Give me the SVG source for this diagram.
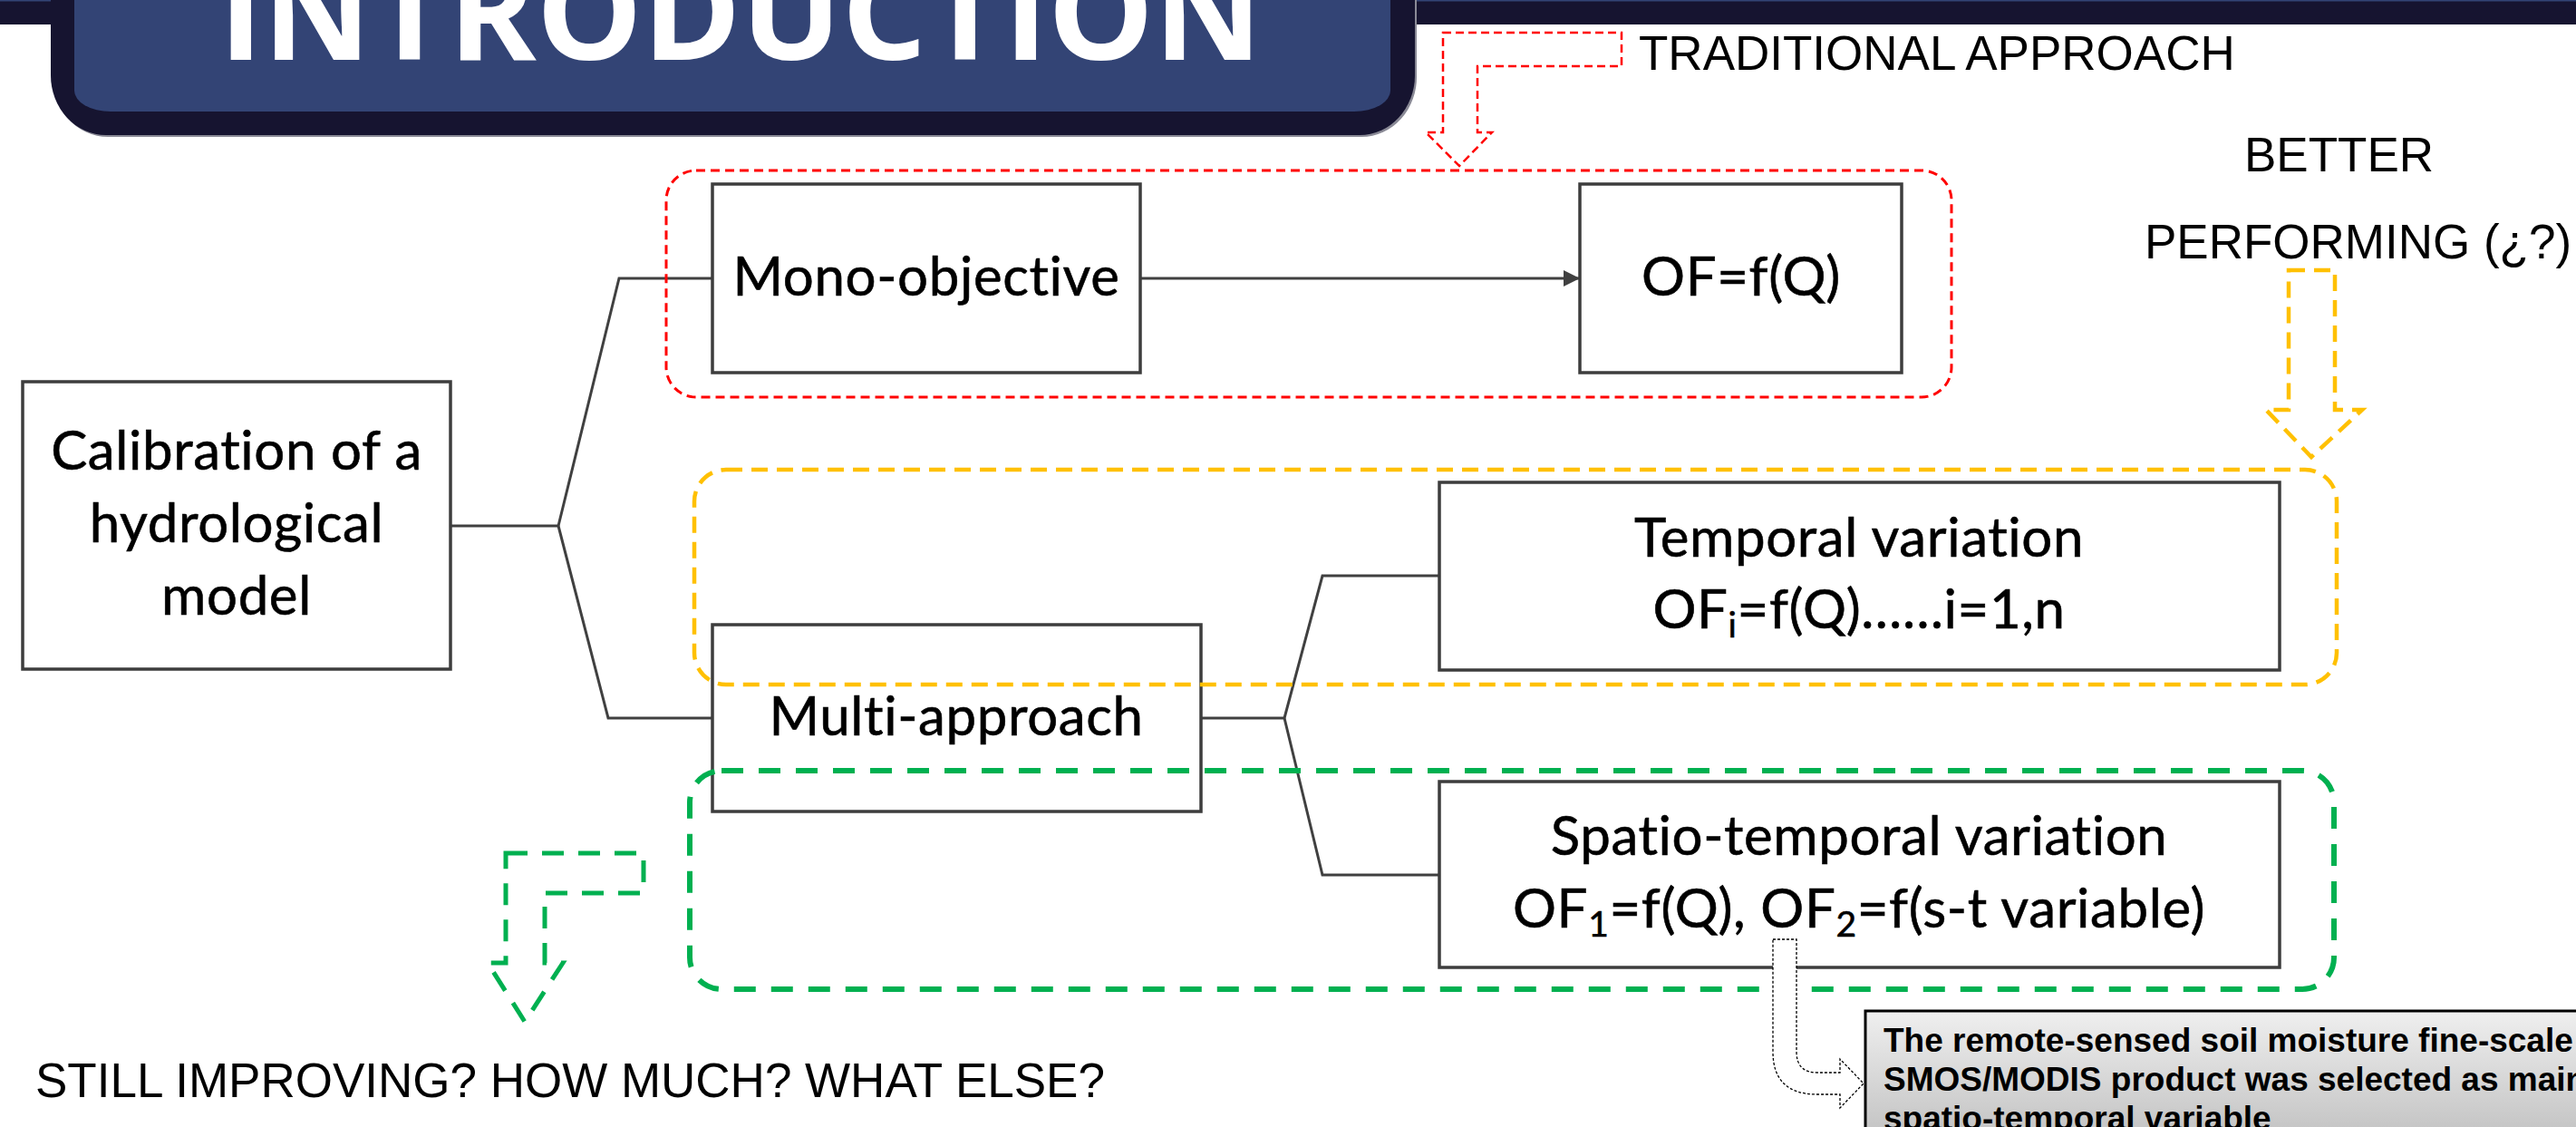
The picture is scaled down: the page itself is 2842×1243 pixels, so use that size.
<svg xmlns="http://www.w3.org/2000/svg" width="2842" height="1243" viewBox="0 0 2842 1243">
  <defs>
    <style>
      .box { fill: #ffffff; stroke: #3d3d3d; stroke-width: 3.5; }
      .lbl { font-family: Lato, "Open Sans", "DejaVu Sans", sans-serif; font-size: 60px; letter-spacing: 0.6px; fill: #000000; stroke: #000000; stroke-width: 0.6; text-anchor: middle; font-variant-ligatures: none; }
      .sub { font-size: 39px; }
      .caps { font-family: "Liberation Sans", Arial, sans-serif; font-size: 53px; fill: #000000; }
      .conn { fill: none; stroke: #404040; stroke-width: 3; }
      .red { fill: none; stroke: #ff0000; stroke-width: 3; stroke-dasharray: 10 6; }
      .redArrow { fill: none; stroke: #ff0000; stroke-width: 2.5; stroke-dasharray: 9 5; }
      .yellow { fill: none; stroke: #ffc000; stroke-width: 4.5; stroke-dasharray: 18 10; }
      .green { fill: none; stroke: #00b050; stroke-width: 6; stroke-dasharray: 24 17; }
      .greenArrow { fill: none; stroke: #00b050; stroke-width: 5; stroke-dasharray: 24 16; }
      .note { font-family: "Liberation Sans", Arial, sans-serif; font-weight: bold; font-size: 37px; fill: #000000; }
    </style>
    <marker id="arrowHead" markerUnits="userSpaceOnUse" markerWidth="20" markerHeight="18" refX="18" refY="9" orient="auto">
      <path d="M0,0 L18,9 L0,18 Z" fill="#404040"/>
    </marker>
    <linearGradient id="noteFill" x1="0" y1="0" x2="0" y2="1">
      <stop offset="0" stop-color="#efefef"/>
      <stop offset="1" stop-color="#bcbcbc"/>
    </linearGradient>
  </defs>

  <rect x="0" y="0" width="2842" height="1243" fill="#ffffff"/>

  <!-- title banner -->
  <g id="banner">
    <rect x="0" y="0" width="2842" height="27" fill="#161430"/>
    <rect x="0" y="0" width="2842" height="1.5" fill="#334475"/>
    <path d="M58,0 H1563 V83 A61,66 0 0 1 1502,151 H119 A61,66 0 0 1 58,83 Z" fill="#8a8a96"/>
    <path d="M56,0 H1561 V83 A61,66 0 0 1 1500,149 H117 A61,66 0 0 1 56,83 Z" fill="#161430"/>
    <path d="M82,0 H1534 V100 A40,23 0 0 1 1494,123 H122 A40,23 0 0 1 82,100 Z" fill="#334475"/>
    <text x="817" y="66" font-family="'Open Sans', 'DejaVu Sans', sans-serif" font-weight="700" font-size="147" fill="#ffffff" text-anchor="middle">INTRODUCTION</text>
  </g>

  <!-- connectors -->
  <g id="connectors">
    <path class="conn" d="M497,580 H616"/>
    <path class="conn" d="M616,580 L683,307 H786"/>
    <path class="conn" d="M616,580 L671,792 H786"/>
    <path class="conn" d="M1258,307 H1743" marker-end="url(#arrowHead)"/>
    <path class="conn" d="M1325,792 H1417"/>
    <path class="conn" d="M1417,792 L1459,635 H1588"/>
    <path class="conn" d="M1417,792 L1459,965 H1588"/>
  </g>

  <!-- nodes -->
  <g id="node-calibration">
    <rect class="box" x="25" y="421" width="472" height="317"/>
    <text class="lbl" x="261" y="518">Calibration of a</text>
    <text class="lbl" x="261" y="598">hydrological</text>
    <text class="lbl" x="261" y="678">model</text>
  </g>
  <g id="node-mono">
    <rect class="box" x="786" y="203" width="472" height="208"/>
    <text class="lbl" x="1022" y="326">Mono-objective</text>
  </g>
  <g id="node-of">
    <rect class="box" x="1743" y="203" width="355" height="208"/>
    <text class="lbl" x="1921" y="326">OF=f(Q)</text>
  </g>
  <g id="node-multi">
    <rect class="box" x="786" y="689" width="539" height="206"/>
    <text class="lbl" x="1055" y="811">Multi-approach</text>
  </g>
  <g id="node-temporal">
    <rect class="box" x="1588" y="532" width="927" height="207"/>
    <text class="lbl" x="2051" y="614">Temporal variation</text>
    <text class="lbl" x="2051" y="693">OF<tspan class="sub" dy="10">i</tspan><tspan dy="-10">=f(Q)……i=1,n</tspan></text>
  </g>
  <g id="node-spatial">
    <rect class="box" x="1588" y="862" width="927" height="205"/>
    <text class="lbl" x="2051" y="943">Spatio-temporal variation</text>
    <text class="lbl" x="2051" y="1023">OF<tspan class="sub" dy="10">1</tspan><tspan dy="-10">=f(Q), OF</tspan><tspan class="sub" dy="10">2</tspan><tspan dy="-10">=f(s-t variable)</tspan></text>
  </g>

  <!-- grouping frames, drawn over the boxes -->
  <rect id="frame-traditional" class="red" x="735" y="188" width="1418" height="250" rx="33" ry="33"/>
  <rect id="frame-temporal" class="yellow" x="766" y="518" width="1812" height="237" rx="35" ry="35"/>
  <rect id="frame-spatial" class="green" x="761" y="850" width="1814" height="241" rx="35" ry="35"/>

  <!-- callout arrows and captions -->
  <g id="arrow-traditional">
    <path class="redArrow" d="M1592,36 H1789 V73 H1630 V146 H1646 L1610,183 L1573,146 H1592 Z"/>
    <text class="caps" x="1808" y="77">TRADITIONAL APPROACH</text>
  </g>
  <g id="arrow-better">
    <path class="yellow" stroke-width="4" d="M2525,298 H2576 V452 H2606 L2550,504 L2500,452 H2525 Z"/>
    <text class="caps" x="2476" y="189">BETTER</text>
    <text class="caps" x="2366" y="285">PERFORMING (¿?)</text>
  </g>
  <g id="arrow-still">
    <path class="greenArrow" d="M558,941 H710 V985 H601 V1062 H621 L579,1127 L538,1062 H558 Z"/>
    <text class="caps" x="39" y="1210">STILL IMPROVING? HOW MUCH? WHAT ELSE?</text>
  </g>

  <g id="note">
    <path d="M1956,1036 H1982 V1160 Q1982,1183 2005,1183 H2030 V1168 L2056,1195 L2030,1222 V1207 H2005 Q1956,1207 1956,1160 Z" fill="#ffffff" stroke="#000000" stroke-width="1.3" stroke-dasharray="3 2"/>
    <rect x="2058" y="1115" width="820" height="160" fill="url(#noteFill)" stroke="#000000" stroke-width="3"/>
    <text class="note" x="2078" y="1160">The remote-sensed soil moisture fine-scale</text>
    <text class="note" x="2078" y="1203">SMOS/MODIS product was selected as main</text>
    <text class="note" x="2078" y="1246">spatio-temporal variable</text>
  </g>
</svg>
